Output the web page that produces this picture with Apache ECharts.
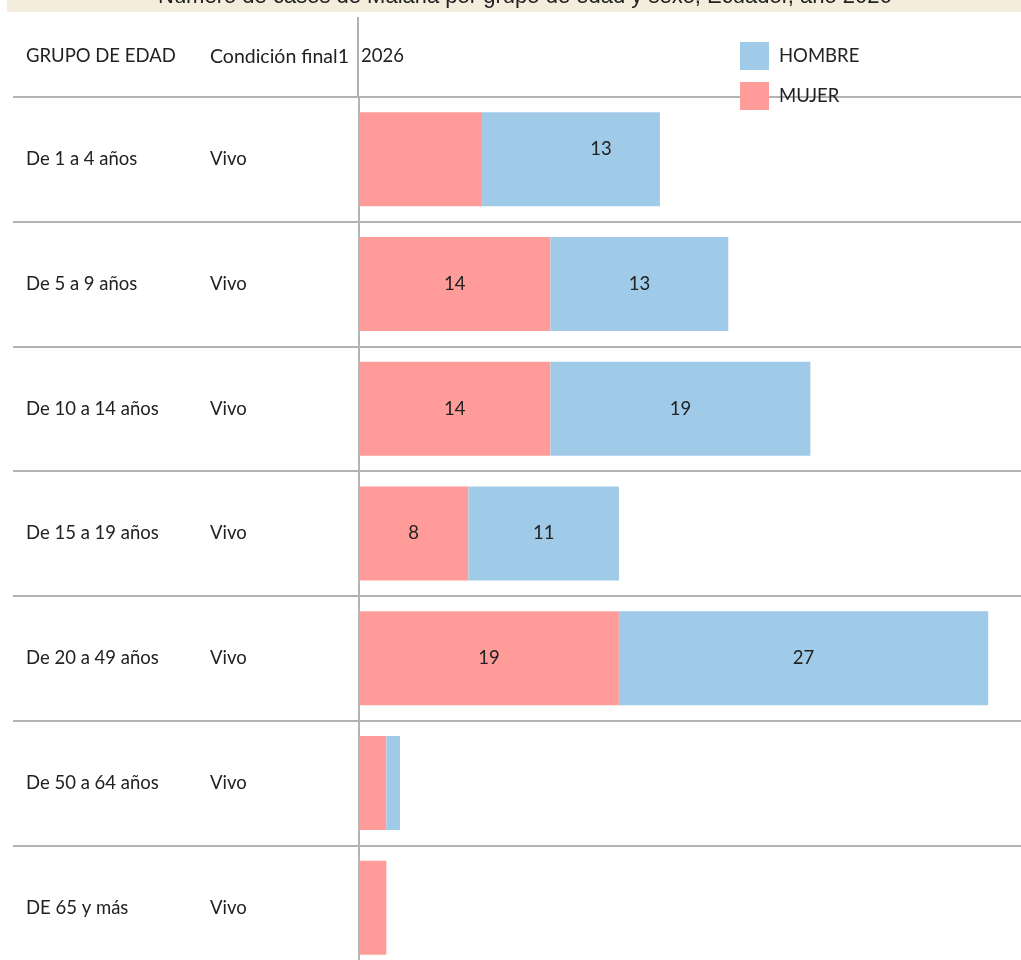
<!DOCTYPE html>
<html>
<head>
<meta charset="utf-8">
<script src="https://cdn.jsdelivr.net/npm/echarts@6/dist/echarts.min.js"></script>
<style>
  html, body { margin: 0; padding: 0; background: #fff; overflow: hidden; }
  #chart { width: 1021px; height: 972px; }
</style>
</head>
<body>
<div id="chart"></div>
<script>
// grupos de edad y condición
const grupos = ["De 1 a 4 años", "De 5 a 9 años", "De 10 a 14 años", "De 15 a 19 años",
  "De 20 a 49 años", "De 50 a 64 años", "DE 65 y más"];
const condicion = ["Vivo", "Vivo", "Vivo", "Vivo", "Vivo", "Vivo", "Vivo"];
// casos por sexo
const mujer = [9, 14, 14, 8, 19, 2, 2];
const hombre = [13, 13, 19, 11, 27, 1, 0];

const gris = "#b3b3b3";
const fuente = "Lato, 'Open Sans', sans-serif";
const tam = 18.5;

const chart = echarts.init(document.getElementById("chart"));

const option = {
  animation: false,
  textStyle: { fontFamily: fuente },
  title: {
    text: "Número de casos de Malaria por grupo de edad y sexo, Ecuador, año 2026",
    left: 153,
    top: -19,
    textStyle: {
      fontFamily: "'Liberation Sans', Arial, sans-serif",
      fontSize: 22,
      fontWeight: "normal",
      color: "#222"
    }
  },
  legend: {
    data: ["HOMBRE", "MUJER"],
    orient: "vertical",
    left: 735,
    top: 37,
    itemWidth: 29,
    itemHeight: 28,
    itemGap: 12,
    icon: "rect",
    textStyle: { fontSize: tam, color: "#222", fontFamily: fuente, padding: [0, 0, 0, 5] }
  },
  graphic: [
    {
      type: "rect",
      z: -1,
      shape: { x: 7, y: -10, width: 1014, height: 22 },
      style: { fill: "#f4eddc" }
    },
    {
      type: "line",
      shape: { x1: 358, y1: 17, x2: 358, y2: 97 },
      style: { stroke: gris, lineWidth: 2 }
    },
    {
      type: "text",
      left: 26, top: 47,
      style: { text: "GRUPO DE EDAD", font: tam + "px " + fuente, fill: "#222" }
    },
    {
      type: "text",
      left: 210, top: 47,
      style: { text: "Condición final1", font: "19.5px " + fuente, fill: "#222" }
    },
    {
      type: "text",
      left: 361, top: 47,
      style: { text: "2026", font: tam + "px " + fuente, fill: "#222" }
    }
  ],
  grid: {
    left: 359,
    right: 0,
    top: 97,
    bottom: 2
  },
  xAxis: {
    type: "value",
    min: 0,
    max: 48.4,
    show: false
  },
  yAxis: {
    type: "category",
    inverse: true,
    data: grupos,
    axisLine: { show: true, lineStyle: { color: gris, width: 2 } },
    axisTick: { show: true, length: 346, lineStyle: { color: gris, width: 2 } },
    splitLine: { show: true, lineStyle: { color: gris, width: 2 } },
    axisLabel: {
      align: "left",
      margin: 333,
      formatter: function (v, i) {
        return "{a|" + v + "}{b|" + condicion[i] + "}";
      },
      rich: {
        a: { width: 184, fontSize: tam, color: "#222", fontFamily: fuente },
        b: { fontSize: tam, color: "#222", fontFamily: fuente }
      }
    }
  },
  series: [
    {
      name: "MUJER",
      type: "bar",
      stack: "total",
      barWidth: 94,
      itemStyle: { color: "#ff9c9a" },
      label: { show: true, position: "inside", color: "#222", fontSize: tam, fontFamily: fuente },
      data: mujer.map((v, i) => ({ value: v, label: { show: v >= 5 && i > 0 } }))
    },
    {
      name: "HOMBRE",
      type: "bar",
      stack: "total",
      barWidth: 94,
      itemStyle: { color: "#9fcae8" },
      label: { show: true, position: "inside", color: "#222", fontSize: tam, fontFamily: fuente },
      data: hombre.map((v, i) => ({
        value: v,
        label: { show: v >= 5, offset: i === 0 ? [30, -10] : [0, 0] }
      }))
    }
  ]
};

chart.setOption(option);
</script>
</body>
</html>
